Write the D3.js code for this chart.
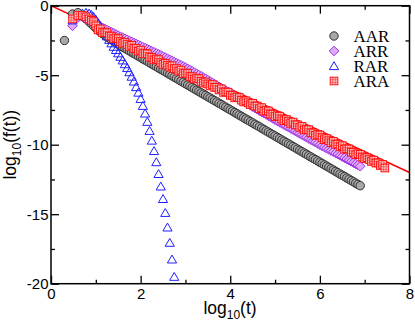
<!DOCTYPE html>
<html><head><meta charset="utf-8">
<script src="https://cdn.jsdelivr.net/npm/d3@7"></script>
<style>body{margin:0;background:#fff}svg{display:block}</style>
</head><body><svg id="c" width="415" height="326"></svg>
<script>
const logT=[0.30,0.48,0.60,0.70,0.78,0.85,0.90,0.95,
1.00,1.05,1.10,1.15,1.20,1.25,1.30,1.35,1.40,1.45,
1.50,1.55,1.60,1.65,1.70,1.75,1.80,1.85,1.90,1.95,
2.00,2.05,2.10,2.15,2.20,2.25,2.30,2.35,2.40,2.45,
2.50,2.55,2.60,2.65,2.70,2.75,2.80,2.85,2.90,2.95,
3.00,3.05,3.10,3.15,3.20,3.25,3.30,3.35,3.40,3.45,
3.50,3.55,3.60,3.65,3.70,3.75,3.80,3.85,3.90,3.95,
4.00,4.05,4.10,4.15,4.20,4.25,4.30,4.35,4.40,4.45,
4.50,4.55,4.60,4.65,4.70,4.75,4.80,4.85,4.90,4.95,
5.00,5.05,5.10,5.15,5.20,5.25,5.30,5.35,5.40,5.45,
5.50,5.55,5.60,5.65,5.70,5.75,5.80,5.85,5.90,5.95,
6.00,6.05,6.10,6.15,6.20,6.25,6.30,6.35,6.40,6.45,
6.50,6.55,6.60,6.65,6.70,6.75,6.80,6.85,6.90,6.95,
7.00,7.05,7.10,7.15,7.20,7.25,7.30,7.35,7.40,7.45];

const aar=[-2.50,-0.60,-0.50,-0.70,-0.95,-1.15,-1.30,-1.45,
-1.60,-1.75,-1.88,-2.00,-2.12,-2.23,-2.34,-2.45,-2.56,-2.67,
-2.78,-2.87,-2.97,-3.06,-3.16,-3.25,-3.35,-3.44,-3.53,-3.63,
-3.72,-3.82,-3.91,-4.00,-4.10,-4.19,-4.29,-4.38,-4.48,-4.57,
-4.66,-4.76,-4.85,-4.95,-5.04,-5.14,-5.23,-5.32,-5.42,-5.51,
-5.61,-5.70,-5.79,-5.89,-5.98,-6.08,-6.17,-6.27,-6.36,-6.45,
-6.55,-6.64,-6.74,-6.83,-6.92,-7.02,-7.11,-7.21,-7.30,-7.40,
-7.49,-7.58,-7.68,-7.77,-7.87,-7.96,-8.06,-8.15,-8.24,-8.34,
-8.43,-8.53,-8.62,-8.71,-8.81,-8.90,-9.00,-9.09,-9.19,-9.28,
-9.37,-9.47,-9.56,-9.66,-9.75,-9.85,-9.94,-10.03,-10.13,-10.22,
-10.32,-10.41,-10.50,-10.60,-10.69,-10.79,-10.88,-10.98,-11.07,-11.16,
-11.26,-11.35,-11.45,-11.54,-11.63,-11.73,-11.82,-11.92,-12.01,-12.11,
-12.20,-12.29,-12.39,-12.48,-12.58,-12.67,-12.77,-12.86,-12.95];

const arr=[null,-1.45,-0.85,-0.80,-0.95,-1.05,-1.15,-1.25,
-1.35,-1.43,-1.51,-1.59,-1.67,-1.75,-1.83,-1.91,-1.99,-2.07,
-2.15,-2.23,-2.30,-2.38,-2.45,-2.53,-2.60,-2.68,-2.75,-2.83,
-2.90,-2.98,-3.05,-3.13,-3.20,-3.28,-3.35,-3.43,-3.50,-3.58,
-3.65,-3.73,-3.81,-3.89,-3.97,-4.05,-4.13,-4.21,-4.29,-4.37,
-4.45,-4.54,-4.63,-4.72,-4.81,-4.90,-4.99,-5.08,-5.17,-5.26,
-5.35,-5.45,-5.54,-5.64,-5.73,-5.83,-5.92,-6.02,-6.11,-6.21,
-6.30,-6.40,-6.49,-6.59,-6.68,-6.78,-6.87,-6.97,-7.06,-7.16,
-7.25,-7.35,-7.44,-7.54,-7.63,-7.73,-7.82,-7.92,-8.01,-8.11,
-8.20,-8.29,-8.38,-8.47,-8.56,-8.65,-8.74,-8.83,-8.92,-9.01,
-9.10,-9.19,-9.28,-9.37,-9.46,-9.55,-9.64,-9.73,-9.82,-9.91,
-10.00,-10.09,-10.17,-10.26,-10.34,-10.43,-10.51,-10.60,-10.68,-10.77,
-10.85,-10.94,-11.03,-11.11,-11.20,-11.29,-11.38,-11.46,-11.55];

const rar=[null,-1.05,-0.75,-0.55,-0.50,-0.55,-0.65,-0.80,
-1.00,-1.22,-1.45,-1.70,-1.95,-2.20,-2.45,-2.70,-2.95,-3.18,
-3.42,-3.67,-3.93,-4.20,-4.48,-4.78,-5.10,-5.45,-5.85,-6.25,
-6.70,-7.20,-7.75,-8.35,-9.00,-9.70,-10.45,-11.25,-12.10,-13.00,
-13.90,-14.90,-15.95,-17.05,-18.25,-19.50];

const ara=[null,-0.95,-0.70,-0.70,-0.80,-0.95,-1.05,-1.15,
-1.45,-1.74,-1.67,-1.94,-1.91,-1.94,-2.18,-2.19,-2.38,-2.32,
-2.37,-2.58,-2.71,-2.64,-2.79,-2.94,-2.85,-3.07,-3.07,-3.27,
-3.20,-3.46,-3.44,-3.46,-3.70,-3.71,-3.90,-3.83,-3.88,-4.09,
-4.22,-4.14,-4.28,-4.42,-4.32,-4.53,-4.52,-4.71,-4.63,-4.89,
-4.85,-4.87,-5.10,-5.10,-5.28,-5.21,-5.25,-5.45,-5.57,-5.49,
-5.63,-5.77,-5.67,-5.88,-5.87,-6.06,-5.98,-6.24,-6.20,-6.22,
-6.45,-6.45,-6.63,-6.56,-6.60,-6.80,-6.92,-6.84,-6.98,-7.12,
-7.02,-7.23,-7.22,-7.41,-7.33,-7.59,-7.55,-7.57,-7.80,-7.80,
-7.98,-7.91,-7.95,-8.15,-8.27,-8.19,-8.33,-8.47,-8.37,-8.58,
-8.57,-8.76,-8.68,-8.94,-8.90,-8.92,-9.15,-9.15,-9.33,-9.26,
-9.30,-9.50,-9.64,-9.56,-9.71,-9.86,-9.76,-9.97,-9.96,-10.15,
-10.07,-10.33,-10.29,-10.31,-10.54,-10.54,-10.72,-10.65,-10.69,-10.89,
-11.01,-10.93,-11.07,-11.21,-11.11,-11.32,-11.31,-11.50,-11.42,-11.68];

const fitX=[0,8];
const fitY=[0,-12];

const xMajor=[0,2,4,6,8], xMinor=[1,3,5,7];
const yMajor=[0,-5,-10,-15,-20], yMinor=[-2.5,-7.5,-12.5,-17.5];
const seriesNames=["AAR","ARR","RAR","ARA"];

const svg=d3.select("#c");
const x=d3.scaleLinear().domain([0,8]).range([51,409.5]);
const y=d3.scaleLinear().domain([-20,0]).range([283.7,5.7]);
const L=51,R=409.5,T=5.7,B=283.7;

svg.append("defs").append("clipPath").attr("id","clip")
  .append("rect").attr("x",L).attr("y",T).attr("width",R-L).attr("height",B-T);

const shapes={
  AAR:g=>g.append("circle").attr("r",4.2).attr("fill","#a8a8a8").attr("stroke","#303030").attr("stroke-width",1),
  ARR:g=>g.append("path").attr("d","M0,-4.8L4.8,0L0,4.8L-4.8,0Z").attr("fill","#dcaaf6").attr("stroke","#a030e8").attr("stroke-width",1),
  RAR:g=>g.append("path").attr("d","M0,-4.3L4.6,3.6L-4.6,3.6Z").attr("fill","none").attr("stroke","#2020ff").attr("stroke-width",1),
  ARA:g=>{
    g.append("rect").attr("x",-3.8).attr("y",-3.8).attr("width",7.6).attr("height",7.6)
      .attr("fill","#ffc4c4").attr("stroke","#ff1010").attr("stroke-width",1);
    g.append("path").attr("d","M-1.3,-3.8V3.8M1.3,-3.8V3.8M-3.8,-1.3H3.8M-3.8,1.3H3.8")
      .attr("stroke","#ff3030").attr("stroke-width",0.6).attr("fill","none");
  }
};

const plot=svg.append("g").attr("clip-path","url(#clip)");
plot.append("line").attr("x1",x(fitX[0])).attr("y1",y(fitY[0])).attr("x2",x(fitX[1])).attr("y2",y(fitY[1]))
  .attr("stroke","#ff0000").attr("stroke-width",1.5);

const seriesData={AAR:aar,ARR:arr,RAR:rar,ARA:ara};
seriesNames.forEach(name=>{
  const vals=seriesData[name];
  const pts=vals.map((v,i)=>({x:logT[i],y:v})).filter(d=>d.y!==null);
  const g=plot.append("g");
  pts.forEach(d=>{
    const s=g.append("g").attr("transform",`translate(${x(d.x)},${y(d.y)})`);
    shapes[name](s);
  });
});

function styleAxis(g){
  g.select(".domain").remove();
  g.selectAll("line").attr("stroke","#000").attr("stroke-width",1.3);
  g.selectAll("text").attr("font-family","'Liberation Sans',Arial,sans-serif").attr("font-size",15).attr("fill","#000");
}
const fmt=d=>String(d);
svg.append("g").attr("transform",`translate(0,${B})`)
  .call(d3.axisBottom(x).tickValues(xMajor).tickSize(-8).tickSizeOuter(0).tickPadding(4.5).tickFormat(fmt)).call(styleAxis);
svg.append("g").attr("transform",`translate(0,${B})`)
  .call(d3.axisBottom(x).tickValues(xMinor).tickSize(-4).tickSizeOuter(0).tickFormat("")).call(styleAxis);
svg.append("g").attr("transform",`translate(0,${T})`)
  .call(d3.axisTop(x).tickValues(xMajor).tickSize(-8).tickSizeOuter(0).tickFormat("")).call(styleAxis);
svg.append("g").attr("transform",`translate(0,${T})`)
  .call(d3.axisTop(x).tickValues(xMinor).tickSize(-4).tickSizeOuter(0).tickFormat("")).call(styleAxis);
svg.append("g").attr("transform",`translate(${L},0)`)
  .call(d3.axisLeft(y).tickValues(yMajor).tickSize(-8).tickSizeOuter(0).tickPadding(2.5).tickFormat(fmt)).call(styleAxis);
svg.append("g").attr("transform",`translate(${L},0)`)
  .call(d3.axisLeft(y).tickValues(yMinor).tickSize(-4).tickSizeOuter(0).tickFormat("")).call(styleAxis);
svg.append("g").attr("transform",`translate(${R},0)`)
  .call(d3.axisRight(y).tickValues(yMajor).tickSize(-8).tickSizeOuter(0).tickFormat("")).call(styleAxis);
svg.append("g").attr("transform",`translate(${R},0)`)
  .call(d3.axisRight(y).tickValues(yMinor).tickSize(-4).tickSizeOuter(0).tickFormat("")).call(styleAxis);

svg.append("rect").attr("x",L).attr("y",T).attr("width",R-L).attr("height",B-T)
  .attr("fill","none").attr("stroke","#000").attr("stroke-width",1.5);

const xl=svg.append("text").attr("x",230).attr("y",314).attr("text-anchor","middle")
  .attr("font-family","'Liberation Sans',Arial,sans-serif").attr("font-size",17.5).attr("fill","#000");
xl.append("tspan").text("log");
xl.append("tspan").attr("font-size",12).attr("dy",5).text("10");
xl.append("tspan").attr("dy",-5).text("(t)");

const yl=svg.append("text").attr("transform",`translate(16,${(T+B)/2}) rotate(-90)`).attr("text-anchor","middle")
  .attr("font-family","'Liberation Sans',Arial,sans-serif").attr("font-size",17.5).attr("fill","#000");
yl.append("tspan").text("log");
yl.append("tspan").attr("font-size",12).attr("dy",5).text("10");
yl.append("tspan").attr("dy",-5).text("(f(t))");

const legY=[36,51,66,81];
seriesNames.forEach((name,i)=>{
  const s=svg.append("g").attr("transform",`translate(334,${legY[i]})`);
  shapes[name](s);
  svg.append("text").attr("x",353.5).attr("y",legY[i]+6).text(name)
    .attr("font-family","'Liberation Serif','Times New Roman',serif").attr("font-size",17).attr("fill","#000");
});
</script></body></html>
